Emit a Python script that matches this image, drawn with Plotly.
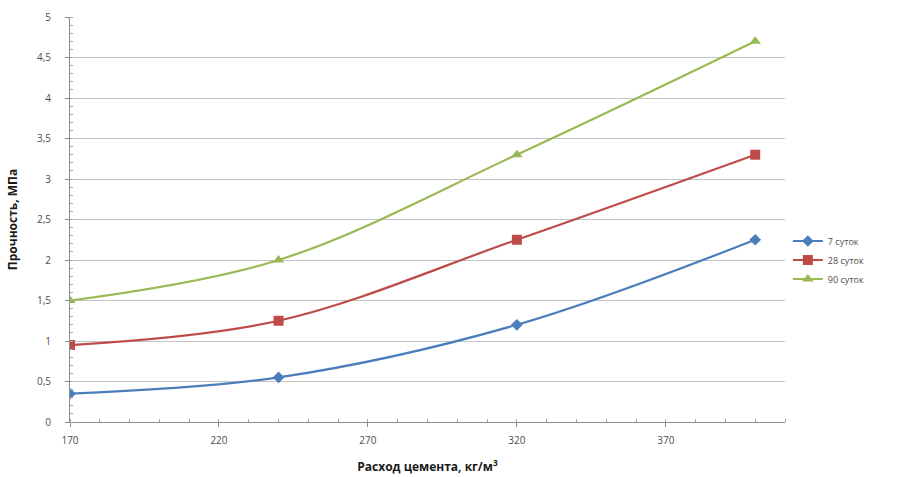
import plotly.graph_objects as go

# Cement consumption, kg/m3
cement = [170, 240, 320, 400]

# Strength, MPa, by curing age
strength_7 = [0.35, 0.55, 1.2, 2.25]
strength_28 = [0.95, 1.25, 2.25, 3.3]
strength_90 = [1.5, 2.0, 3.3, 4.7]

series_names = ["7 суток", "28 суток", "90 суток"]
series_values = [strength_7, strength_28, strength_90]
colors = ["#4A7EBB", "#BE4B48", "#98B954"]
symbols = ["diamond", "square", "triangle-up"]
sizes = [9, 10, 10]

fig = go.Figure()
for name, vals, col, sym, sz in zip(series_names, series_values, colors, symbols, sizes):
    fig.add_trace(go.Scatter(
        x=cement, y=vals, name=name,
        mode="lines+markers",
        line=dict(color=col, width=2.2, shape="spline", smoothing=1.0),
        marker=dict(symbol=sym, size=sz, color=col),
    ))

axis_font = dict(family="Open Sans, Liberation Sans, sans-serif", size=10, color="#4d4d4d")
title_font = dict(family="Open Sans, Liberation Sans, sans-serif", size=12, color="#1a1a1a")

fig.update_layout(
    width=912, height=477,
    margin=dict(l=70, r=127, t=17, b=55),
    paper_bgcolor="white", plot_bgcolor="white",
    separators=", ",
    showlegend=True,
    legend=dict(
        x=1.004, xanchor="left", y=0.40, yanchor="middle",
        font=dict(family="Open Sans, Liberation Sans, sans-serif", size=9, color="#4d4d4d"),
        tracegroupgap=8, itemwidth=30,
    ),
    xaxis=dict(
        range=[170, 410], tick0=170, dtick=50, automargin=False,
        showgrid=False, zeroline=False,
        showline=True, linecolor="#8c8c8c", linewidth=1,
        ticks="outside", ticklen=4, tickcolor="#8c8c8c",
        minor=dict(dtick=10, tick0=170, ticks="inside", ticklen=3, tickcolor="#a6a6a6", showgrid=False),
        tickfont=axis_font, ticklabelstandoff=5,
        title=dict(text="<b>Расход цемента, кг/м<sup>3</sup></b>", font=title_font, standoff=16),
    ),
    yaxis=dict(
        range=[0, 5], dtick=0.5, automargin=False,
        showgrid=True, gridcolor="#c4c4c4", gridwidth=1,
        zeroline=False,
        showline=True, linecolor="#8c8c8c", linewidth=1,
        ticks="outside", ticklen=4, tickcolor="#8c8c8c",
        minor=dict(dtick=0.1, ticks="inside", ticklen=3, tickcolor="#a6a6a6", showgrid=False),
        tickfont=axis_font, ticklabelstandoff=12,
        title=dict(text="<b>Прочность, МПа</b>", font=title_font, standoff=16),
    ),
)

fig.write_html("out.html")
